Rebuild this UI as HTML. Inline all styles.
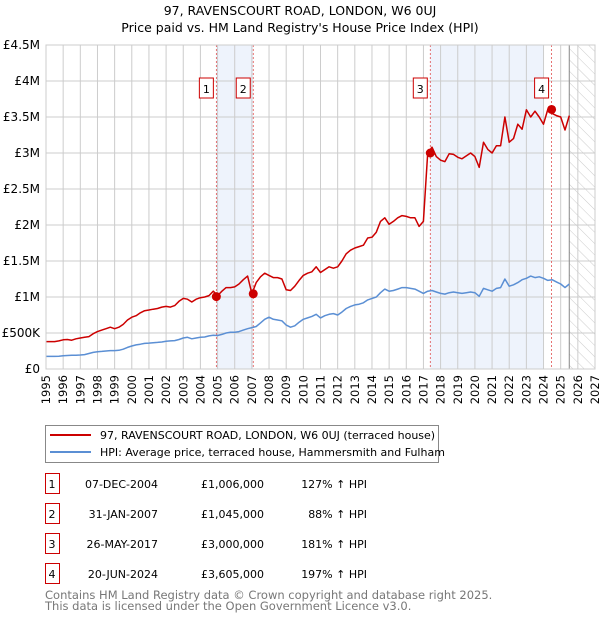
<!DOCTYPE html>
<html><head><meta charset="utf-8"><style>
body{margin:0;background:#fff;font-family:"Liberation Sans","DejaVu Sans",sans-serif;}
svg text{font-family:"DejaVu Sans","Liberation Sans",sans-serif;}
</style></head><body>
<svg id="c" width="600" height="620" xmlns="http://www.w3.org/2000/svg">
<defs><pattern id="hatch" width="8" height="8" patternUnits="userSpaceOnUse" patternTransform="rotate(-45)"><line x1="0" y1="0" x2="0" y2="8" stroke="#ccc" stroke-width="1"/></pattern></defs>
<text x="300" y="15" text-anchor="middle" font-size="12.5">97, RAVENSCOURT ROAD, LONDON, W6 0UJ</text>
<text x="300" y="32" text-anchor="middle" font-size="12.5">Price paid vs. HM Land Registry's House Price Index (HPI)</text>
<g id="plot"></g>
<g>
<rect x="45.5" y="425.5" width="393" height="37" fill="#fff" stroke="#888"/>
<line x1="50" y1="435" x2="91" y2="435" stroke="#cc0000" stroke-width="2"/>
<text x="100" y="439" font-size="11">97, RAVENSCOURT ROAD, LONDON, W6 0UJ (terraced house)</text>
<line x1="50" y1="452" x2="91" y2="452" stroke="#5b8fd4" stroke-width="2"/>
<text x="100" y="456" font-size="11">HPI: Average price, terraced house, Hammersmith and Fulham</text>
</g>
<g id="table" font-size="11"></g>
<text x="45" y="599" font-size="11.5" fill="#777">Contains HM Land Registry data © Crown copyright and database right 2025.</text>
<text x="45" y="610" font-size="11.5" fill="#777">This data is licensed under the Open Government Licence v3.0.</text>
</svg>
<script>
const hpiValues=[175,175,175,178,185,188,190,192,195,200,215,230,240,245,250,255,255,260,275,300,320,335,345,355,360,365,370,375,385,390,395,410,430,440,420,430,440,445,460,470,465,480,500,510,510,520,540,560,575,590,640,690,720,690,680,670,610,580,600,650,690,710,730,760,710,740,760,770,750,790,840,870,890,900,920,960,980,1000,1060,1110,1080,1090,1110,1130,1130,1120,1110,1080,1050,1080,1090,1070,1050,1040,1060,1070,1060,1050,1060,1070,1060,1010,1120,1100,1080,1120,1130,1250,1150,1170,1200,1240,1260,1290,1270,1280,1260,1230,1240,1210,1180,1130,1180];
const priceValues=[380,380,380,390,405,410,400,420,430,440,450,490,520,540,560,580,560,580,620,680,720,740,780,810,820,830,840,860,870,860,880,940,980,970,930,970,990,1000,1020,1080,1020,1080,1130,1130,1140,1180,1240,1290,1045,1200,1280,1330,1300,1270,1270,1250,1100,1090,1150,1230,1300,1330,1350,1420,1340,1380,1420,1400,1420,1500,1600,1650,1680,1700,1720,1820,1830,1900,2050,2100,2010,2050,2100,2130,2120,2100,2100,1980,2050,3000,3080,2950,2900,2880,2990,2980,2940,2920,2960,3000,2950,2800,3150,3050,3000,3100,3100,3500,3150,3200,3400,3330,3600,3500,3580,3500,3400,3605,3550,3520,3500,3320,3520];
const startYear=1995;
const saleLabels=["1","2","3","4"];
const saleYears=[2004.93,2007.08,2017.4,2024.47];
const salePrices=[1006,1045,3000,3605];
const saleDates=["07-DEC-2004","31-JAN-2007","26-MAY-2017","20-JUN-2024"];
const salePriceText=["£1,006,000","£1,045,000","£3,000,000","£3,605,000"];
const saleHpiText=["127% ↑ HPI","88% ↑ HPI","181% ↑ HPI","197% ↑ HPI"];
const yTicks=[0,500,1000,1500,2000,2500,3000,3500,4000,4500];
const yTickLabels=["£0","£500K","£1M","£1.5M","£2M","£2.5M","£3M","£3.5M","£4M","£4.5M"];
const shadeRanges=[[2004.93,2007.08],[2017.4,2024.0]];
const dataEnd=2025.5;

const NS="http://www.w3.org/2000/svg";
const X0=46,X1=595,Y0=369,Y1=45;
const xS=y=>X0+(y-1995)/(2027-1995)*(X1-X0);
const yS=v=>Y0-v/4500*(Y0-Y1);
function mk(p,tag,at){const e=document.createElementNS(NS,tag);for(const k in at)e.setAttribute(k,at[k]);p.appendChild(e);return e;}
const g=document.getElementById('plot');
shadeRanges.forEach(r=>{const e=mk(g,'rect',{x:xS(r[0]),y:Y1,width:xS(r[1])-xS(r[0]),height:Y0-Y1,fill:'#eef3fc'});

});
const h=mk(g,'rect',{x:xS(dataEnd),y:Y1,width:X1-xS(dataEnd),height:Y0-Y1,fill:'url(#hatch)'});


for(let y=1995;y<=2027;y++){const e=mk(g,'line',{x1:xS(y),x2:xS(y),y1:Y1,y2:Y0,stroke:'#ccc'});


const t=mk(g,'text',{x:0,y:0,'font-size':11.5,'text-anchor':'end',transform:`translate(${xS(y)+4},${Y0+6}) rotate(-90)`});t.textContent=y;

}
yTicks.forEach((v,i)=>{const e=mk(g,'line',{x1:X0,x2:X1,y1:yS(v),y2:yS(v),stroke:'#ccc'});


const t=mk(g,'text',{x:X0-6,y:yS(v)+4,'font-size':12,'text-anchor':'end'});t.textContent=yTickLabels[i];

});
const dl=mk(g,'line',{x1:xS(dataEnd),x2:xS(dataEnd),y1:Y1,y2:Y0,stroke:'#888'});


saleYears.forEach((y,i)=>{const e=mk(g,'line',{x1:xS(y),x2:xS(y),y1:Y1,y2:Y0,stroke:'#e05050','stroke-dasharray':'2,2','stroke-width':0.8});


const b=mk(g,'rect',{x:xS(y)-17,y:78,width:14,height:20,fill:'#fff',stroke:'#cc0000'});


const t=mk(g,'text',{x:xS(y)-10,y:93,'font-size':11,'text-anchor':'middle'});t.textContent=saleLabels[i];

});
function line(vals,col,name){const d=vals.map((v,i)=>(i?'L':'M')+xS(startYear+i*0.25).toFixed(1)+','+yS(v).toFixed(1)).join('');
const p=mk(g,'path',{d:d,fill:'none',stroke:col,'stroke-width':1.5,'stroke-linejoin':'round'});

}
line(hpiValues,'#5b8fd4','hpi-line');
line(priceValues,'#cc0000','price-line');
saleYears.forEach((y,i)=>{const c=mk(g,'circle',{cx:xS(y),cy:yS(salePrices[i]),r:4.5,fill:'#cc0000'});

});
mk(g,'rect',{x:X0,y:Y1,width:X1-X0,height:Y0-Y1,fill:'none',stroke:'#ccc'});
const tb=document.getElementById('table');
saleLabels.forEach((l,i)=>{const yy=483+i*30;
const b=mk(tb,'rect',{x:45.5,y:yy-9.5,width:14,height:20,fill:'#fff',stroke:'#cc0000'});


const cells=[[52,'middle',l],[158,'end',saleDates[i]],[264,'end',salePriceText[i]],[367,'end',saleHpiText[i]]];
cells.forEach(c=>{const t=mk(tb,'text',{x:c[0],y:yy+5,'text-anchor':c[1]});t.textContent=c[2];

});});
</script>
</body></html>
